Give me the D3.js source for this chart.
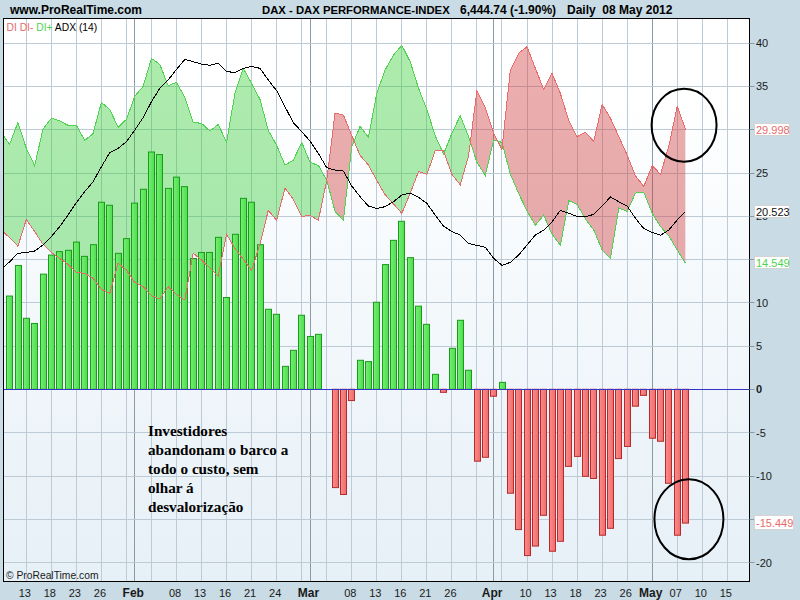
<!DOCTYPE html>
<html>
<head>
<meta charset="utf-8">
<title>DAX - DI / ADX (14)</title>
<script src="https://cdnjs.cloudflare.com/ajax/libs/d3/7.8.5/d3.min.js"></script>
<style>
html, body { margin: 0; padding: 0; background: #c9dbe5; }
svg { display: block; }
text { font-family: "Liberation Sans", Arial, sans-serif; font-size: 11px; }
</style>
</head>
<body>
<svg id="chart" width="800" height="600"></svg>
<script>
// trading days, first one is only there for the lines running off the left edge
var days = ["Jan 10", "Jan 11", "Jan 12", "Jan 13", "Jan 16", "Jan 17", "Jan 18", "Jan 19", "Jan 20",
    "Jan 23", "Jan 24", "Jan 25", "Jan 26", "Jan 27", "Jan 30", "Jan 31", "Feb 01", "Feb 02", "Feb 03",
    "Feb 06", "Feb 07", "Feb 08", "Feb 09", "Feb 10", "Feb 13", "Feb 14", "Feb 15", "Feb 16", "Feb 17",
    "Feb 20", "Feb 21", "Feb 22", "Feb 23", "Feb 24", "Feb 27", "Feb 28", "Feb 29", "Mar 01", "Mar 02",
    "Mar 05", "Mar 06", "Mar 07", "Mar 08", "Mar 09", "Mar 12", "Mar 13", "Mar 14", "Mar 15", "Mar 16",
    "Mar 19", "Mar 20", "Mar 21", "Mar 22", "Mar 23", "Mar 26", "Mar 27", "Mar 28", "Mar 29", "Mar 30",
    "Apr 02", "Apr 03", "Apr 04", "Apr 05", "Apr 10", "Apr 11", "Apr 12", "Apr 13", "Apr 16", "Apr 17",
    "Apr 18", "Apr 19", "Apr 20", "Apr 23", "Apr 24", "Apr 25", "Apr 26", "Apr 27", "Apr 30", "May 02",
    "May 03", "May 04", "May 07", "May 08", "May 09", "May 10", "May 11", "May 14", "May 15"];

var diPlus = [29.63, 28.28, 30.82, 27.82, 25.82, 30.05, 31.29, 31.02, 30.48, 30.48, 28.75, 29.52, 33.13,
    32.32, 30.25, 31.17, 33.83, 34.98, 38.21, 37.52, 35.06, 35.44, 33.71, 30.82, 30.71, 29.82, 30.59,
    28.51, 34.17, 37.06, 35.33, 33.48, 29.9, 28.17, 25.9, 26.44, 28.51, 26.2, 25.86, 24.13, 20.55, 19.51,
    28.01, 30.36, 29.09, 34.17, 36.87, 38.6, 39.72, 37.83, 34.75, 32.32, 29.28, 27.17, 29.55, 31.59,
    29.17, 26.2, 24.7, 28.78, 28.51, 24.86, 22.6, 20.6, 18.93, 20.12, 17.89, 16.62, 21.78, 21.35, 19.66,
    18.39, 16.08, 15.12, 20.93, 20.55, 22.66, 22.74, 20.32, 18.78, 17.7, 16.08, 14.549];

var diMinus = [18.39, 17.51, 16.52, 19.62, 18.22, 16.75, 15.79, 15.12, 14.43, 13.48, 13.4, 12.82, 11.53,
    11.07, 14.55, 13.77, 12.33, 11.88, 10.81, 10.42, 11.86, 10.94, 10.31, 15.72, 14.91, 14.02, 13.04,
    17.91, 16.27, 15.01, 13.73, 16.78, 20.66, 19.51, 23.25, 21.94, 19.96, 20.1, 19.51, 24.13, 31.9, 31.66,
    29.31, 27.01, 25.89, 24.12, 22.47, 21.4, 20.32, 22.63, 25.15, 24.82, 27.55, 27.52, 24.82, 23.62,
    26.97, 34.5, 32.55, 29.58, 27.71, 36.86, 38.8, 39.56, 37.06, 34.63, 36.48, 34.17, 31.02, 29.17, 29.67,
    28.63, 32.9, 31.29, 29.17, 27.05, 24.63, 23.43, 25.82, 24.82, 28.09, 32.67, 29.998];

var adx = [13.77, 14.73, 15.7, 15.81, 15.97, 16.66, 17.62, 18.78, 20.12, 21.55, 22.82, 23.97, 25.7,
    27.32, 27.82, 28.59, 29.94, 31.36, 33.21, 34.75, 35.71, 36.94, 38.1, 37.83, 37.56, 37.41, 37.68,
    36.71, 36.56, 37.06, 37.29, 37.06, 35.71, 34.48, 32.63, 30.79, 29.75, 28.67, 27.24, 25.59, 25.32, 25.2,
    23.47, 22.24, 21.16, 20.89, 21.09, 21.66, 22.43, 22.66, 22.16, 21.47, 20.12, 18.85, 18.2, 17.81,
    16.85, 16.62, 16.39, 15.12, 14.31, 14.66, 15.5, 16.66, 17.81, 18.39, 19.35, 20.66, 20.32, 19.97, 19.93,
    20.2, 21.16, 22.2, 21.66, 21.16, 19.74, 18.55, 18.12, 17.78, 18.39, 19.55, 20.523];

// histogram DI+ minus DI-, null where no bar shows
var histo = [null, 10.77, 14.3, 8.2, 7.6, 13.3, 15.5, 15.9, 16.05, 17, 15.35, 16.7, 21.6,
    21.25, 15.7, 17.4, 21.5, 23.1, 27.4, 27.1, 23.2, 24.5, 23.4, 15.1, 15.8, 15.8, 17.55,
    10.6, 17.9, 22.05, 21.6, 16.7, 9.24, 8.66, 2.65, 4.5, 8.55, 6.1, 6.35, null, -11.35, -12.15,
    -1.3, 3.35, 3.2, 10.05, 14.4, 17.2, 19.4, 15.2, 9.6, 7.5, 1.73, -0.35, 4.73, 7.97,
    2.2, -8.3, -7.85, -0.8, 0.8, -12, -16.2, -19.2, -18.1, -14.55, -18.7, -17.55, -8.9, -7.75, -10.05,
    -10.3, -16.85, -16.05, -8, -6.6, -1.95, -0.7, -5.65, -6, -10.85, -16.85, -15.449];

var yTicks = [40, 35, 30, 25, 20, 15, 10, 5, 0, -5, -10, -15, -20];
// 30, 15 and -15 sit fully behind the last value boxes
var yTickLabels = [40, 35, 25, 20, 10, 5, 0, -5, -10, -20];
var xTickDays = ["Jan 13", "Jan 18", "Jan 23", "Jan 26", "Feb 01", "Feb 08", "Feb 13", "Feb 16", "Feb 21",
    "Feb 24", "Mar 01", "Mar 08", "Mar 13", "Mar 16", "Mar 21", "Mar 26", "Apr 02", "Apr 10", "Apr 13",
    "Apr 18", "Apr 23", "Apr 26", "May 02", "May 07", "May 10", "May 15"];
var xTickLabels = ["13", "18", "23", "26", "Feb", "08", "13", "16", "21", "24", "Mar", "08", "13", "16",
    "21", "26", "Apr", "10", "13", "18", "23", "26", "May", "07", "10", "15"];
var monthDays = ["Feb 01", "Mar 01", "Apr 02", "May 02"];
var noteLines = ["Investidores", "abandonam o barco a", "todo o custo, sem", "olhar á", "desvalorização"];
var lastValues = [
    {value: 29.998, label: "29.998", color: "#e86a6a"},
    {value: 20.523, label: "20.523", color: "#111111"},
    {value: 14.549, label: "14.549", color: "#4fd24f"},
    {value: -15.449, label: "-15.449", color: "#e86a6a"}
];

var svg = d3.select("#chart"),
    plotLeft = 3.5, plotRight = 749.5, plotTop = 18.5, plotBottom = 581.5;

var x = d3.scalePoint().domain(days).range([1.25, 727.3]);
var y = d3.scaleLinear().domain([40, -20]).range([42.9, 562.5]);

function crispY(v) {
    return Math.floor(y(v) + 0.2) + 0.5;
}
function crispX(d) {
    return Math.floor(x(d)) + 0.5;
}

var defs = svg.append("defs");

var bg = defs.append("linearGradient").attr("id", "plotBg").attr("x1", 0).attr("x2", 0).attr("y1", 0).attr("y2", 1);
bg.append("stop").attr("offset", "0").attr("stop-color", "#ffffff");
bg.append("stop").attr("offset", "0.12").attr("stop-color", "#ffffff");
bg.append("stop").attr("offset", "1").attr("stop-color", "#e6f0f7");

var gb = defs.append("linearGradient").attr("id", "barGreen");
gb.append("stop").attr("offset", "0").attr("stop-color", "#74f074");
gb.append("stop").attr("offset", "1").attr("stop-color", "#4edc4e");
var rb = defs.append("linearGradient").attr("id", "barRed");
rb.append("stop").attr("offset", "0").attr("stop-color", "#fb8c8c");
rb.append("stop").attr("offset", "1").attr("stop-color", "#ef6c6c");

defs.append("clipPath").attr("id", "plotClip").append("rect")
    .attr("x", plotLeft).attr("y", plotTop).attr("width", plotRight - plotLeft).attr("height", plotBottom - plotTop);

// the band between the two DI lines changes colour where they cross
var seriesDays = days.slice(0, diPlus.length);
var aboveMinus = d3.area().x(function(d) { return x(d); })
    .y0(plotTop).y1(function(d, i) { return y(diMinus[i]); });
var belowMinus = d3.area().x(function(d) { return x(d); })
    .y0(plotBottom).y1(function(d, i) { return y(diMinus[i]); });
defs.append("clipPath").attr("id", "aboveClip").append("path").attr("d", aboveMinus(seriesDays));
defs.append("clipPath").attr("id", "belowClip").append("path").attr("d", belowMinus(seriesDays));

svg.append("rect").attr("x", plotLeft).attr("y", plotTop).attr("width", plotRight - plotLeft).attr("height", plotBottom - plotTop)
    .attr("fill", "url(#plotBg)");

var gridDays = days.filter(function(d, i) { return i % 3 == 0; });

var plot = svg.append("g").attr("clip-path", "url(#plotClip)");

plot.append("g").selectAll("line").data(gridDays).enter().append("line")
    .attr("x1", crispX).attr("x2", crispX).attr("y1", plotTop).attr("y2", plotBottom)
    .attr("stroke", "#bccbd5");
plot.append("g").selectAll("line").data(monthDays).enter().append("line")
    .attr("x1", crispX).attr("x2", crispX).attr("y1", plotTop).attr("y2", plotBottom)
    .attr("stroke", "#8b9ba6");
plot.append("g").selectAll("line").data(yTicks).enter().append("line")
    .attr("x1", plotLeft).attr("x2", plotRight).attr("y1", crispY).attr("y2", crispY)
    .attr("stroke", "#bccbd5");

var band = d3.area().x(function(d) { return x(d); })
    .y0(function(d, i) { return y(diPlus[i]); })
    .y1(function(d, i) { return y(diMinus[i]); });

plot.append("g").attr("clip-path", "url(#aboveClip)").append("path")
    .attr("d", band(seriesDays)).attr("fill", "#32cd32").attr("fill-opacity", 0.4);
plot.append("g").attr("clip-path", "url(#belowClip)").append("path")
    .attr("d", band(seriesDays)).attr("fill", "#cd3232").attr("fill-opacity", 0.4);

plot.append("g").selectAll("rect")
    .data(histo.map(function(v, i) { return {day: days[i], value: v}; })
        .filter(function(d) { return d.value !== null; }))
    .enter().append("rect")
    .attr("x", function(d) { return Math.round(x(d.day) - 3.4) + 0.5; })
    .attr("width", 6)
    .attr("y", function(d) { return Math.min(y(d.value), y(0)); })
    .attr("height", function(d) { return Math.abs(y(d.value) - y(0)); })
    .attr("fill", function(d) { return d.value > 0 ? "url(#barGreen)" : "url(#barRed)"; })
    .attr("stroke", function(d) { return d.value > 0 ? "#1a9c1a" : "#b52a2a"; });

function seriesLine(values) {
    return d3.line().x(function(d) { return x(d); }).y(function(d, i) { return y(values[i]); })(seriesDays);
}
function drawLine(values, color) {
    plot.append("path").attr("d", seriesLine(values)).attr("fill", "none").attr("stroke", color)
        .attr("shape-rendering", "crispEdges");
}
drawLine(diPlus, "#4fd24f");
drawLine(diMinus, "#e86a6a");
drawLine(adx, "#000000");

plot.append("line").attr("x1", plotLeft).attr("x2", plotRight).attr("y1", crispY(0)).attr("y2", crispY(0))
    .attr("stroke", "#3434c8");

svg.append("rect").attr("x", plotLeft).attr("y", plotTop).attr("width", plotRight - plotLeft).attr("height", plotBottom - plotTop)
    .attr("fill", "none").attr("stroke", "#000000");

// y axis on the right
svg.append("g").selectAll("line").data(yTicks).enter().append("line")
    .attr("x1", plotRight).attr("x2", plotRight + 5).attr("y1", crispY).attr("y2", crispY)
    .attr("stroke", "#8b9ba6");
svg.append("g").selectAll("text").data(yTickLabels).enter().append("text")
    .attr("x", 756).attr("y", function(d) { return y(d) + 4; })
    .attr("fill", "#1a1a1a")
    .attr("font-weight", function(d) { return d == 0 ? "bold" : "normal"; })
    .text(function(d) { return d; });

// last values
var boxes = svg.append("g").selectAll("g").data(lastValues).enter().append("g");
boxes.append("rect")
    .attr("x", 754.5)
    .attr("y", function(d) { return Math.round(y(d.value)) - (d.value < 0 ? 7.5 : 6.5); })
    .attr("width", function(d) { return d.value < 0 ? 39 : 35; })
    .attr("height", function(d) { return d.value < 0 ? 14 : 12; })
    .attr("fill", "#ffffff")
    .attr("stroke", "#d4d4d4");
boxes.append("text")
    .attr("x", 756)
    .attr("y", function(d) { return Math.round(y(d.value)) + 4; })
    .attr("fill", function(d) { return d.color; })
    .text(function(d) { return d.label; });

// x axis
svg.append("g").selectAll("text").data(xTickDays).enter().append("text")
    .attr("x", function(d) { return x(d) - 1.5; })
    .attr("y", 597)
    .attr("text-anchor", "middle")
    .attr("fill", "#1a1a1a")
    .style("font-size", function(d) { return monthDays.indexOf(d) >= 0 ? "12px" : "11px"; })
    .attr("font-weight", function(d) { return monthDays.indexOf(d) >= 0 ? "bold" : "normal"; })
    .text(function(d, i) { return xTickLabels[i]; });

// header
function header(txt, xPos, size) {
    svg.append("text").attr("x", xPos).attr("y", 14).attr("font-weight", "bold").attr("fill", "#000000")
        .style("font-size", size + "px").style("white-space", "pre").text(txt);
}
header("www.ProRealTime.com", 10, 12);
header("DAX - DAX PERFORMANCE-INDEX", 262, 11.3);
header("6,444.74 (-1.90%)", 460, 12);
header("Daily  08 May 2012", 567, 12);

// legend
var legend = svg.append("text").attr("x", 6.5).attr("y", 31).style("font-size", "10.3px");
legend.append("tspan").attr("fill", "#e86a6a").text("DI DI- ");
legend.append("tspan").attr("fill", "#4fd24f").text("DI+ ");
legend.append("tspan").attr("fill", "#000000").text("ADX (14)");

svg.append("text").attr("x", 6).attr("y", 579).style("font-size", "10.3px").attr("fill", "#1a1a1a").text("© ProRealTime.com");

// hand drawn note and circles
svg.append("g").selectAll("text").data(noteLines).enter().append("text")
    .attr("x", 148)
    .attr("y", function(d, i) { return 436 + i * 19; })
    .attr("fill", "#000000")
    .style("font-family", "'Liberation Serif', 'Times New Roman', serif")
    .style("font-size", "15.2px")
    .style("font-weight", "bold")
    .text(function(d) { return d; });

svg.append("ellipse").attr("cx", x("May 08") - 1.5).attr("cy", y(30.5)).attr("rx", 32.5).attr("ry", 36.5)
    .attr("fill", "none").attr("stroke", "#000000").attr("stroke-width", 2);
svg.append("ellipse").attr("cx", x("May 09") - 5).attr("cy", y(-15)).attr("rx", 34.5).attr("ry", 40)
    .attr("fill", "none").attr("stroke", "#000000").attr("stroke-width", 2);
</script>
</body>
</html>
